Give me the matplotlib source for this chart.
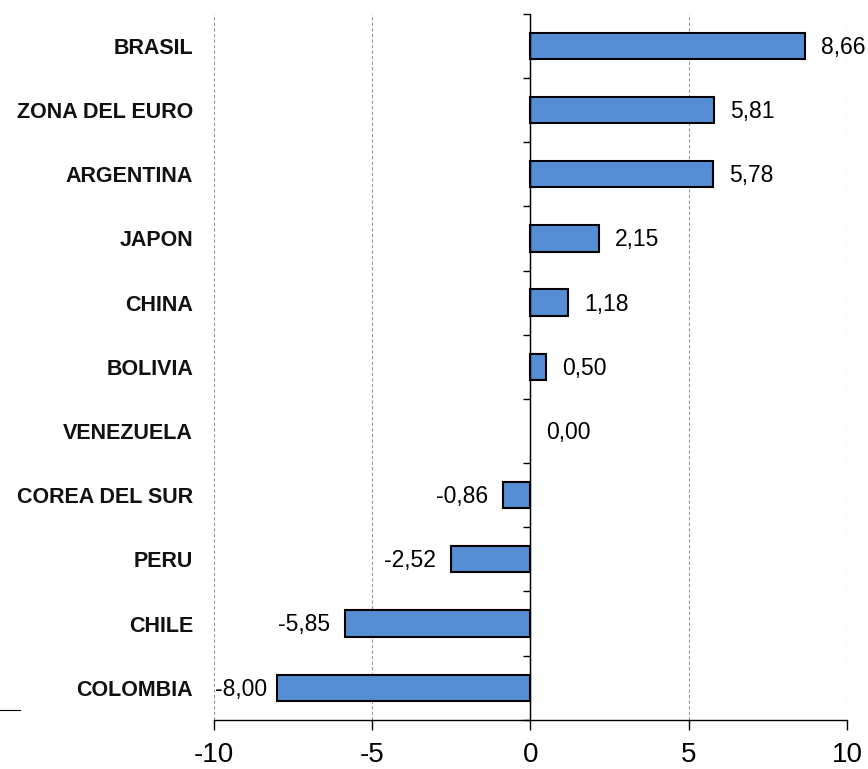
#!/usr/bin/env python3
"""Horizontal bar chart: variation by country."""

import numpy as np
import matplotlib.pyplot as plt
from matplotlib.lines import Line2D

plt.rcParams['font.family'] = ['Liberation Sans', 'DejaVu Sans']
plt.rcParams['axes.unicode_minus'] = False

countries = ['BRASIL', 'ZONA DEL EURO', 'ARGENTINA', 'JAPON', 'CHINA', 'BOLIVIA',
             'VENEZUELA', 'COREA DEL SUR', 'PERU', 'CHILE', 'COLOMBIA']
values = [8.66, 5.81, 5.78, 2.15, 1.18, 0.50, 0.00, -0.86, -2.52, -5.85, -8.00]
xticks = [-10, -5, 0, 5, 10]

BAR_COLOR = '#558ED5'

fig = plt.figure(figsize=(8.68, 7.69), dpi=100)
ax = fig.add_axes([0.2465, 0.064, 0.7293, 0.918])

y = np.arange(len(countries))
edge_w = [0 if v == 0 else 1.5 for v in values]
ax.barh(y, values, height=0.41, color=BAR_COLOR, edgecolor='black', linewidth=edge_w, zorder=3)

ax.set_xlim(-10, 10)
ax.set_ylim(len(countries) - 0.5, -0.5)

# value labels, comma decimals
for yi, v in zip(y, values):
    txt = f"{v:.2f}".replace('.', ',')
    if v >= 0:
        ax.annotate(txt, (v, yi), xytext=(11.5, -1), textcoords='offset points',
                    ha='left', va='center', fontsize=16.5)
    elif v < -7:
        # no room outside, push against the left edge
        ax.annotate(txt, (-10, yi), xytext=(1, -1), textcoords='offset points',
                    ha='left', va='center', fontsize=16.5)
    else:
        ax.annotate(txt, (v, yi), xytext=(-11, -1), textcoords='offset points',
                    ha='right', va='center', fontsize=16.5)

# category labels on the left
ax.set_yticks(y)
ax.set_yticklabels(countries, fontsize=15.5, fontweight='bold', color='#111111')
ax.tick_params(axis='y', length=0, pad=15)

# x axis
ax.set_xticks(xticks)
ax.set_xticklabels([str(t) for t in xticks], fontsize=20)
ax.tick_params(axis='x', direction='out', length=7, width=1, pad=9)

for side in ['top', 'right', 'left']:
    ax.spines[side].set_visible(False)
ax.spines['bottom'].set_linewidth(1)

# dashed vertical gridlines, solid zero line
for t in xticks:
    if t == 0:
        ax.axvline(0, color='black', lw=1, zorder=4)
    else:
        ax.axvline(t, color='#9a9a9a', lw=0.8, ls=(0, (3, 2)), zorder=1)

# small ticks at category boundaries along the zero line, pointing left
sec = ax.secondary_yaxis(0.5)
sec.set_yticks(np.arange(len(countries) + 1) - 0.5)
sec.set_yticklabels([])
sec.tick_params(axis='y', direction='in', length=5, width=1)
sec.spines['left'].set_visible(False)

# stray mark at bottom left of the original
fig.add_artist(Line2D([0.0, 0.023], [0.077, 0.077], color='black', lw=0.8))

plt.savefig('out.png', dpi=100)
